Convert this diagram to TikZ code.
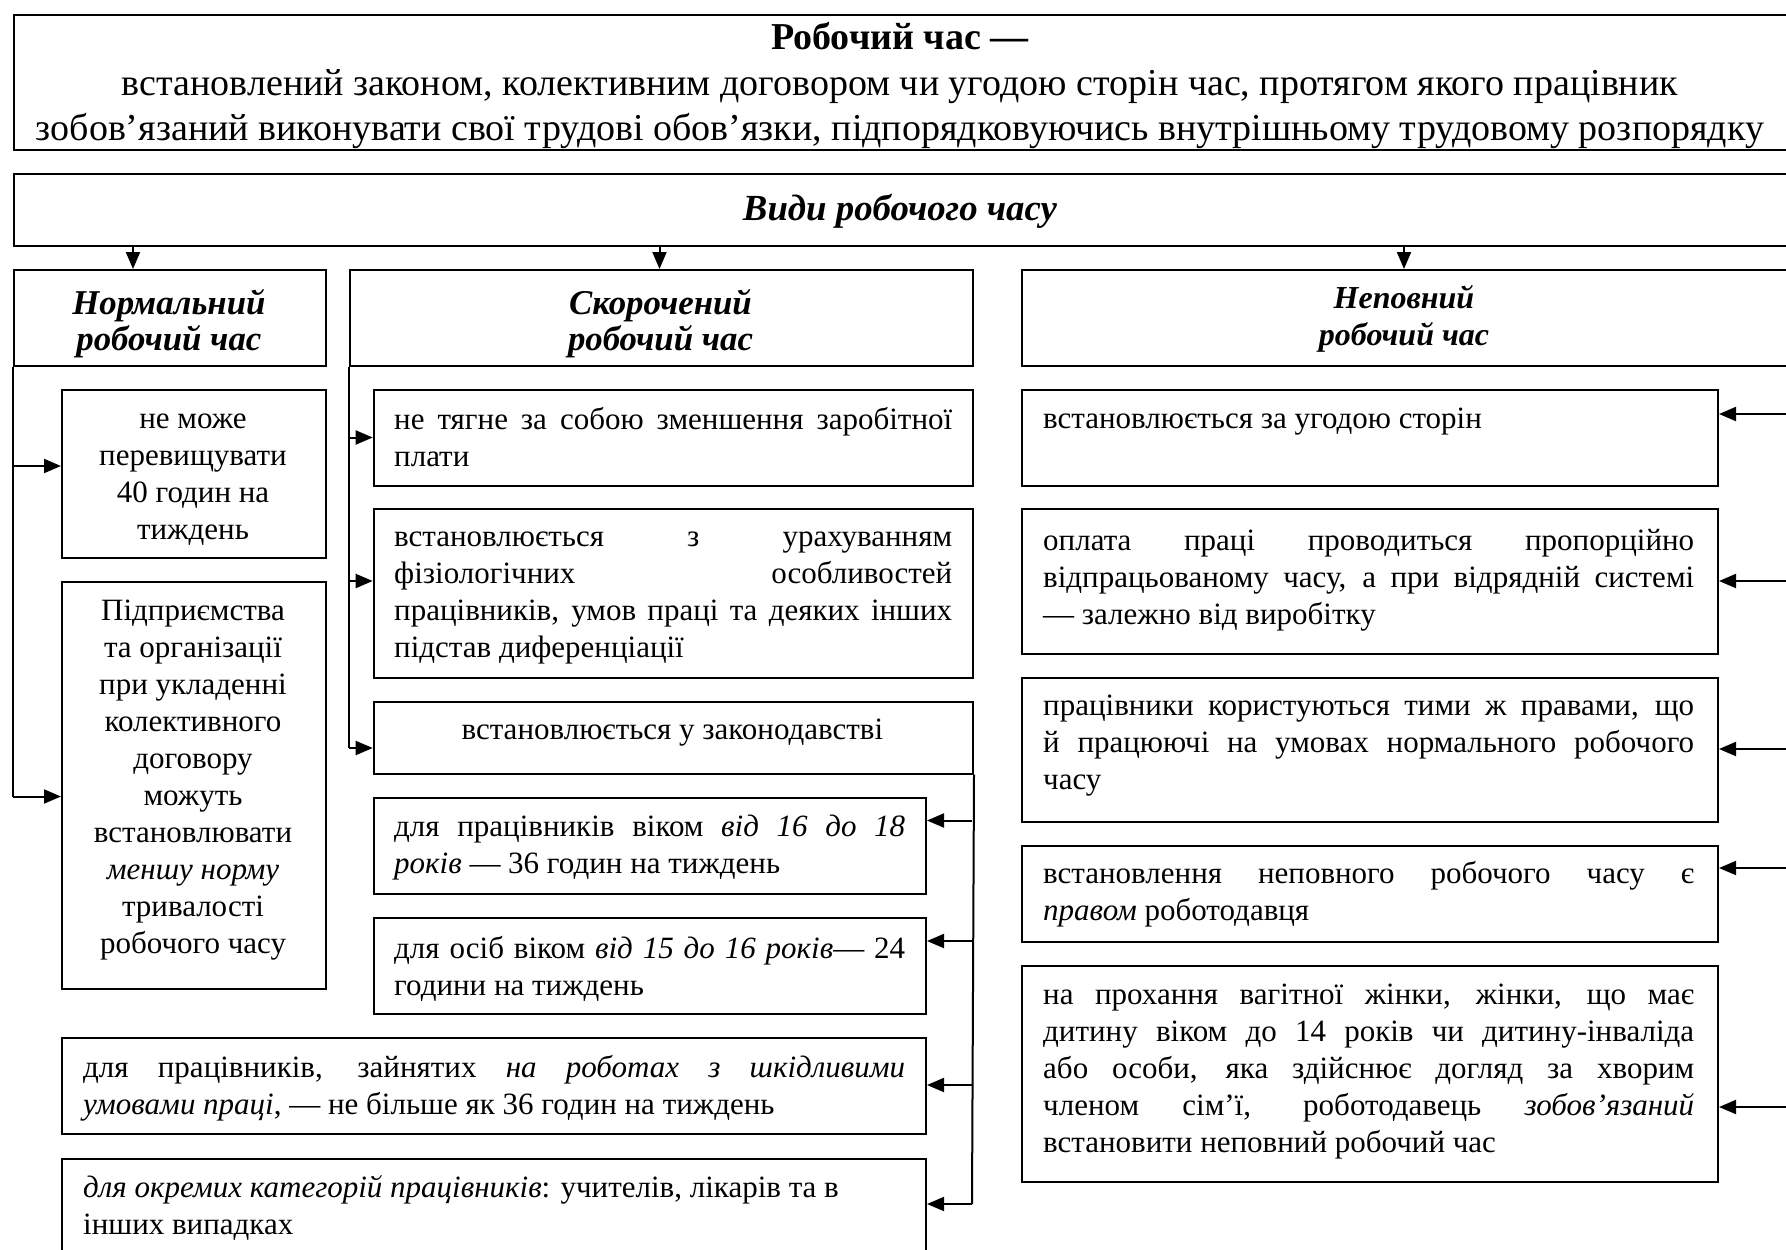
\documentclass[tikz,border=0pt]{standalone}
\usepackage{fontspec}
\setmainfont{Liberation Serif}
\usetikzlibrary{arrows.meta}
\newcommand{\jl}[2]{\makebox[#1pt][s]{#2}}
\begin{document}
\begin{tikzpicture}[x=1pt,y=-1pt,
  box/.style={draw, line width=2pt, inner sep=0pt, anchor=north west},
  bus/.style={line width=2pt},
  arr/.style={line width=2pt, -{Triangle[length=17pt,width=14pt]}},
  body/.style={inner sep=0pt, font=\fontsize{31}{37}\selectfont},
  tl/.style={body, anchor=north west, align=left},
  tc/.style={body, anchor=north, align=center},
  head/.style={inner sep=0pt, anchor=north, align=center, font=\fontsize{34.8}{36.5}\selectfont\bfseries\itshape},
]
\useasboundingbox (0,0) rectangle (1786,1250);

% top definition box
\node[box, minimum width=1777.3pt, minimum height=135.6pt] (def) at (12.7,13.7) {};
\node[inner sep=0pt, anchor=north, align=center, font=\fontsize{38}{45.5}\selectfont] (deft) at (900,17.5)
 {\strut\textbf{Робочий час —}\\встановлений законом, колективним договором чи угодою сторін час, протягом якого працівник\\зобов’язаний виконувати свої трудові обов’язки, підпорядковуючись внутрішньому трудовому розпорядку};

% kinds box
\node[box, minimum width=1777.3pt, minimum height=72.3pt] (vidy) at (12.7,172.7) {};
\node[inner sep=0pt, anchor=base, font=\fontsize{36.8}{43}\selectfont\bfseries\itshape] (vidyt) at (900,220.5) {Види робочого часу};

% headers
\node[box, minimum width=312.3pt, minimum height=96pt] (hN) at (12.7,269) {};
\node[head] (hNt) at (168.9,288.4) {\strut Нормальний\\робочий час};
\node[box, minimum width=623.3pt, minimum height=96pt] (hS) at (349,269) {};
\node[head] (hSt) at (660.5,288.4) {\strut Скорочений\\робочий час};
\node[box, minimum width=768.5pt, minimum height=96pt] (hP) at (1020.5,269) {};
\node[head, font=\fontsize{32}{36.5}\selectfont\bfseries\itshape] (hPt) at (1404,283.2) {\strut Неповний\\робочий час};

\coordinate (aN) at (133,245);
\coordinate (aS) at (659.5,245);
\coordinate (aP) at (1404,245);
\draw[arr] (aN) -- (aN |- hN.north);
\draw[arr] (aS) -- (aS |- hS.north);
\draw[arr] (aP) -- (aP |- hP.north);

% left column
\node[box, minimum width=264pt, minimum height=167.7pt] (L1) at (61,389) {};
\node[tc] (L1t) at (193,402.5) {\strut не може\\перевищувати\\40 годин на\\тиждень};
\node[box, minimum width=264pt, minimum height=407pt] (L2) at (61,581) {};
\node[tc] (L2t) at (193,594.5) {\strut Підприємства\\та організації\\при укладенні\\колективного\\договору\\можуть\\встановлювати\\\textit{меншу норму}\\тривалості\\робочого часу};

\coordinate (bL1) at (12.7,466);
\coordinate (bL2) at (12.7,796.5);
\draw[bus] (hN.south west) -- (bL2);
\draw[arr] (bL1) -- (bL1 -| L1.west);
\draw[arr] (bL2) -- (bL2 -| L2.west);

% middle column
\node[box, minimum width=599.3pt, minimum height=95.5pt] (A) at (372.7,389) {};
\node[tl] (At) at (394,403) {\strut\jl{558}{не тягне за собою зменшення заробітної}\\плати};
\node[box, minimum width=599.3pt, minimum height=168.7pt] (B) at (372.7,508.3) {};
\node[tl] (Bt) at (394,520.5) {\strut\jl{558}{встановлюється з урахуванням}\\\jl{558}{фізіологічних особливостей}\\\jl{558}{працівників, умов праці та деяких інших}\\підстав диференціації};
\node[box, minimum width=599.3pt, minimum height=71.7pt] (C) at (372.7,701) {};
\node[tc] (Ct) at (672.4,713.5) {\strut встановлюється у законодавстві};

\coordinate (bA) at (349,437.5);
\coordinate (bB) at (349,581);
\coordinate (bC) at (349,748);
\draw[bus] (hS.south west) -- (bC);
\draw[arr] (bA) -- (bA -| A.west);
\draw[arr] (bB) -- (bB -| B.west);
\draw[arr] (bC) -- (bC -| C.west);

\node[box, minimum width=552.3pt, minimum height=96.3pt] (D) at (372.7,796.7) {};
\node[tl] (Dt) at (394,810.5) {\strut\jl{511}{для працівників віком \textit{від 16 до 18}}\\\textit{років} — 36 годин на тиждень};
\node[box, minimum width=552.3pt, minimum height=96.3pt] (E) at (372.7,916.7) {};
\node[tl] (Et) at (394,932) {\strut\jl{511}{для осіб віком \textit{від 15 до 16 років}— 24}\\години на тиждень};
\node[box, minimum width=864pt, minimum height=96.3pt] (F) at (61,1036.7) {};
\node[tl] (Ft) at (83,1051.5) {\strut\jl{822}{для працівників, зайнятих \textit{на роботах з шкідливими}}\\\textit{умовами праці}, — не більше як 36 годин на тиждень};
\node[box, minimum width=864pt, minimum height=130pt] (G) at (61,1158) {};
\node[tl] (Gt) at (83,1171.5) {\strut\textit{для окремих категорій працівників}: учителів, лікарів та в\\інших випадках};

\coordinate (bD) at (972,820.5);
\coordinate (bE) at (972,941);
\coordinate (bF) at (972,1085);
\coordinate (bG) at (972,1204);
\draw[bus] (C.south east) -- (bG);
\draw[arr] (bD) -- (bD -| D.east);
\draw[arr] (bE) -- (bE -| E.east);
\draw[arr] (bF) -- (bF -| F.east);
\draw[arr] (bG) -- (bG -| G.east);

% right column
\node[box, minimum width=696.5pt, minimum height=95.5pt] (R1) at (1020.5,389) {};
\node[tl] (R1t) at (1043,402.5) {\strut встановлюється за угодою сторін};
\node[box, minimum width=696.5pt, minimum height=144.4pt] (R2) at (1020.5,508.3) {};
\node[tl] (R2t) at (1043,524.5) {\strut\jl{651}{оплата праці проводиться пропорційно}\\\jl{651}{відпрацьованому часу, а при відрядній системі}\\— залежно від виробітку};
\node[box, minimum width=696.5pt, minimum height=144pt] (R3) at (1020.5,676.7) {};
\node[tl] (R3t) at (1043,689.5) {\strut\jl{651}{працівники користуються тими ж правами, що}\\\jl{651}{й працюючі на умовах нормального робочого}\\часу};
\node[box, minimum width=696.5pt, minimum height=96pt] (R4) at (1020.5,845) {};
\node[tl] (R4t) at (1043,857) {\strut\jl{651}{встановлення неповного робочого часу є}\\\textit{правом} роботодавця};
\node[box, minimum width=696.5pt, minimum height=216pt] (R5) at (1020.5,965) {};
\node[tl] (R5t) at (1043,978.5) {\strut\jl{651}{на прохання вагітної жінки, жінки, що має}\\\jl{651}{дитину віком до 14 років чи дитину-інваліда}\\\jl{651}{або особи, яка здійснює догляд за хворим}\\\jl{651}{членом сім’ї, роботодавець \textit{зобов’язаний}}\\встановити неповний робочий час};

\coordinate (bR1) at (1789,414);
\coordinate (bR2) at (1789,581);
\coordinate (bR3) at (1789,749);
\coordinate (bR4) at (1789,868);
\coordinate (bR5) at (1789,1107);
\draw[bus] (hP.south east) -- (bR5);
\draw[arr] (bR1) -- (bR1 -| R1.east);
\draw[arr] (bR2) -- (bR2 -| R2.east);
\draw[arr] (bR3) -- (bR3 -| R3.east);
\draw[arr] (bR4) -- (bR4 -| R4.east);
\draw[arr] (bR5) -- (bR5 -| R5.east);
\end{tikzpicture}
\end{document}
